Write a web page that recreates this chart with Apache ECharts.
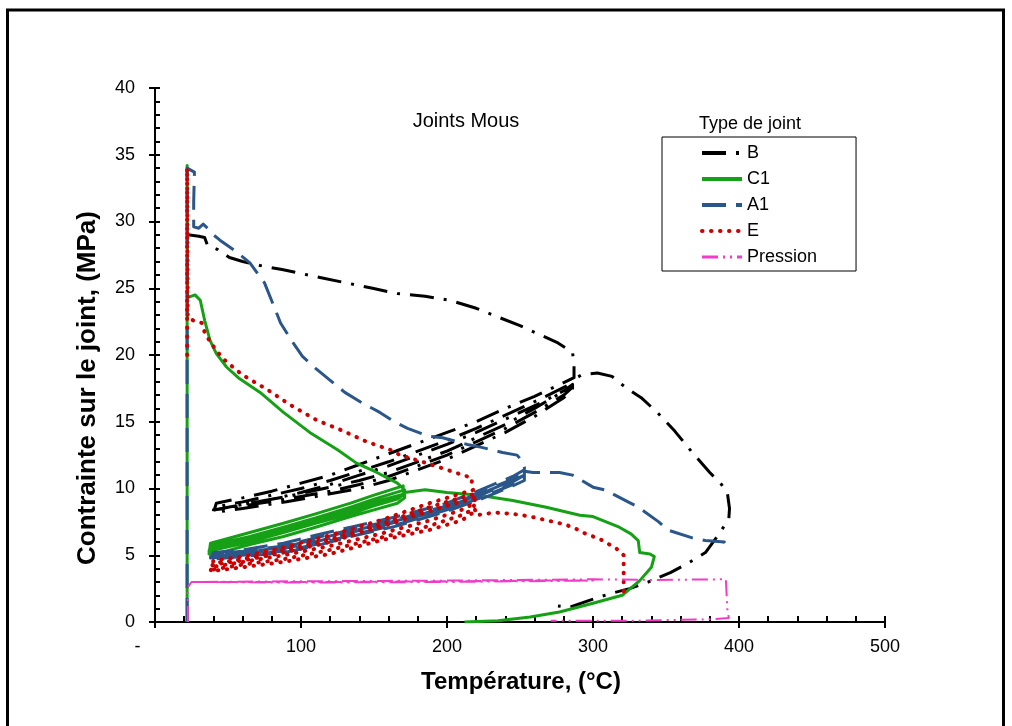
<!DOCTYPE html>
<html>
<head>
<meta charset="utf-8">
<script src="https://cdn.jsdelivr.net/npm/echarts@6/dist/echarts.min.js"></script>
<style>
html,body{margin:0;padding:0;background:#fff;}
#chart{width:1012px;height:726px;}
</style>
</head>
<body>
<div id="chart"></div>
<script>
// ---- Data (Température °C, Contrainte MPa) ----
const seriesNames = ['B', 'C1', 'A1', 'E', 'Pression'];

// B
const bLoad = [[22.6,29.0],[30,28.9],[34,28.8],[36,28.2],[43,27.9],[51,27.3],[60,27.0],[72,26.7],[87,26.4],[96,26.2],[113,25.8],[131,25.4],[149,25.0],[166,24.6],[185,24.4],[202,24.1],[220,23.5],[236,22.8],[250,22.2],[264,21.5],[276,20.9],[286,20.2],[287,19.3]];
const bCool1 = [[287,18.3],[260,16.9],[240,16.0],[220,15.0],[200,14.2],[180,13.4],[160,12.6],[140,11.8],[120,11.0],[100,10.4],[80,9.8],[60,9.3],[42,8.9]];
const bHeat1 = [[40,8.2],[60,8.5],[90,9.0],[120,9.6],[140,10.0],[160,10.6],[180,11.4],[200,12.2],[220,13.2],[240,14.2],[260,15.4],[280,16.8],[286,17.4]];
const bCool2 = [[286,17.9],[262,16.6],[240,15.5],[220,14.5],[200,13.6],[180,12.8],[160,12.0],[140,11.3],[120,10.6],[100,10.0],[80,9.5],[60,9.0],[41,8.6]];
const bHeat2 = [[40,8.4],[60,8.8],[90,9.4],[120,10.1],[140,10.6],[160,11.2],[180,12.0],[200,12.8],[220,13.8],[240,14.8],[260,16.0],[280,17.3],[286,17.8]];
const bCool3 = [[285,17.6],[262,16.3],[240,15.2],[220,14.2],[200,13.3],[180,12.5],[160,11.7],[140,11.0],[120,10.3],[100,9.7],[80,9.2],[60,8.8],[41,8.4]];
const bHeat3 = [[40,8.3],[60,8.7],[90,9.2],[120,9.8],[140,10.3],[160,10.9],[180,11.7],[200,12.5],[220,13.5],[240,14.5],[260,15.7],[280,17.0],[286,17.6]];
const bFinal = [[286,18.1],[292,18.5],[303,18.65],[313,18.4],[322,17.6],[333,16.8],[344,15.7],[356,14.3],[368,12.7],[380,11.2],[388,10.3],[392,9.7],[393.5,8.5],[393,7.7],[385,6.4],[377,5.2],[365,4.4],[353,3.7],[338,3.0],[325,2.5],[311,2.1],[297,1.6],[284,1.1],[276,1.2]];

// C1
const cLoad = [[22,0],[22,34.2],[22.3,24.3],[27.4,24.5],[31,24.1],[34,22.6],[37.7,21.1],[42,20.1],[49,19.1],[57,18.3],[72,17.2],[88,15.7],[106,14.2],[125,12.9],[138,11.9],[152,11.2],[166,10.4],[170,10.0]];
const cCool1 = [[170,10.2],[150,9.5],[134,8.9],[110,8.1],[88,7.4],[65,6.7],[45,6.1],[38,5.9]];
const cHeat1 = [[37,5.1],[45,5.2],[65,5.8],[88,6.4],[110,7.1],[134,7.9],[150,8.4],[166,8.9],[171,9.3]];
const cCool2 = [[171,9.9],[150,9.2],[134,8.6],[110,7.8],[88,7.1],[65,6.4],[45,5.9],[38,5.7]];
const cHeat2 = [[37,5.3],[45,5.5],[65,6.0],[88,6.7],[110,7.4],[134,8.1],[150,8.7],[166,9.2],[171,9.6]];
const cCool3 = [[171,9.7],[150,9.0],[134,8.4],[110,7.6],[88,6.9],[65,6.2],[45,5.7],[38,5.5]];
const cHeat3 = [[37,5.4],[45,5.6],[65,6.1],[88,6.8],[110,7.5],[134,8.2],[150,8.8],[166,9.3],[171,9.7]];
const cFinal = [[172,9.8],[185,9.9],[200,9.7],[222,9.5],[245,9.1],[268,8.6],[291,8.0],[300,7.9],[318,7.1],[326,6.6],[331,6.1],[332,5.2],[339,5.1],[342,4.9],[340,4.1],[332,3.1],[320,2.0],[300,1.4],[277,0.75],[257,0.37],[235,0.1],[212,0]];

// A1
const aLoad = [[22,0],[22,34],[27,33.7],[26.5,31.5],[26.5,29.6],[30,29.5],[33,29.8],[36,29.5],[40,29.0],[44.5,28.6],[55,27.8],[65,26.9],[75,25.4],[82,23.5],[86,22.4],[94,21.0],[101,19.9],[110,19.0],[120,18.1],[130,17.2],[142,16.4],[154,15.7],[164,15.0],[173,14.5],[188,13.9],[197,13.8],[214,13.3],[223,13.1],[238,12.7],[248,12.5],[252,12.0],[253,11.6]];
const aCool1 = [[253,11.4],[245,10.9],[223,9.9],[200,8.9],[166,7.9],[134,7.1],[110,6.5],[88,5.9],[60,5.4],[40,5.2]];
const aHeat1 = [[38,4.7],[60,4.9],[88,5.2],[110,5.7],[134,6.4],[166,7.2],[200,8.3],[223,9.2],[245,10.2],[253,10.6]];
const aCool2 = [[253,11.0],[245,10.6],[223,9.6],[200,8.6],[166,7.6],[134,6.8],[110,6.2],[88,5.6],[60,5.2],[40,5.0]];
const aHeat2 = [[38,4.9],[60,5.1],[88,5.5],[110,6.0],[134,6.7],[166,7.5],[200,8.5],[223,9.5],[245,10.5],[253,11.0]];
const aCool3 = [[253,11.2],[245,10.7],[223,9.7],[200,8.7],[166,7.7],[134,6.9],[110,6.3],[88,5.7],[60,5.3],[40,5.1]];
const aHeat3 = [[38,4.8],[60,5.0],[88,5.3],[110,5.8],[134,6.5],[166,7.3],[200,8.4],[223,9.3],[245,10.3],[253,10.8]];
const aFinal = [[253,11.3],[259,11.2],[277,11.2],[286,11.0],[300,10.1],[308,9.9],[324,9.0],[331,8.6],[345,7.5],[351,6.9],[368,6.3],[377,6.1],[390,6.0],[384,5.8]];

// E
const eLoad = [[22,20],[22,34],[22.4,22.8],[26,22.6],[32,22.4],[34,21.7],[37.7,21.0],[41,20.5],[46,19.8],[50,19.4],[60,18.5],[77,17.4],[92,16.3],[111,15.1],[127,14.4],[145,13.5],[161,12.9],[168,12.5],[186,11.9],[200,11.4],[211,11.0],[217,10.8],[217,10.3],[218,9.9]];
const eCool1 = [[218,9.9],[200,9.3],[188,8.9],[154,7.6],[120,6.5],[88,5.6],[60,4.9],[40,4.6]];
const eHeat1 = [[38,3.8],[60,4.1],[88,4.5],[120,5.1],[154,6.1],[188,6.9],[210,7.6],[218,8.2]];
const eCool2 = [[219,9.3],[200,8.7],[188,8.3],[154,7.1],[120,6.0],[88,5.2],[60,4.6],[40,4.3]];
const eHeat2 = [[38,4.1],[60,4.5],[88,5.0],[120,5.7],[154,6.6],[188,7.6],[210,8.4],[219,8.9]];
const eCool3 = [[219,9.6],[200,9.0],[188,8.6],[154,7.3],[120,6.2],[88,5.4],[60,4.7],[40,4.4]];
const eHeat3 = [[38,3.9],[60,4.3],[88,4.7],[120,5.4],[154,6.3],[188,7.2],[210,8.0],[219,8.5]];
const eFinal = [[220,8.0],[233,8.2],[245,8.1],[257,7.9],[269,7.6],[281,7.3],[288,7.0],[293,6.7],[305,6.2],[316,5.5],[321,5.0],[321,3.7],[321,2.2]];

// Pression
const pLoad = [[22.5,0],[22.5,2.6],[25,3.0],[60,3.0],[120,3.0],[200,3.05],[260,3.1],[300,3.1]];
const pCycle = [[300,3.15],[200,3.0],[100,2.95],[30,3.0],[100,3.05],[200,3.1],[300,3.2]];
const pFinal = [[340,3.15],[391,3.2],[392,1.0],[393,0.3],[380,0.2],[330,0.1],[271,0.1]];

// ---- Build ----
const dataB = [].concat(bLoad, bCool1, bHeat1, bCool2, bHeat2, bCool3, bHeat3, bFinal);
const dataC = [].concat(cLoad, cCool1, cHeat1, cCool2, cHeat2, cCool3, cHeat3, cFinal);
const dataA = [].concat(aLoad, aCool1, aHeat1, aCool2, aHeat2, aCool3, aHeat3, aFinal);
const dataE = [].concat(eLoad, eCool1, eHeat1, eCool2, eHeat2, eCool3, eHeat3, eFinal);
const dataP = [].concat(pLoad, pCycle, pFinal);

const FONT = "'Liberation Sans', Arial, sans-serif";
const chart = echarts.init(document.getElementById('chart'), null, {renderer: 'canvas'});

const styles = {
  B:        {color: '#000000', width: 3,   type: [24, 10, 3, 10]},
  C1:       {color: '#16a016', width: 3,   type: 'solid'},
  A1:       {color: '#2a5689', width: 3,   type: [24, 10]},
  E:        {color: '#cc0000', width: 4,   type: [0.5, 8.5], cap: 'round'},
  Pression: {color: '#f03cc8', width: 2,   type: [16, 5, 2, 5, 2, 5]}
};
const dataMap = {B: dataB, C1: dataC, A1: dataA, E: dataE, Pression: dataP};

function mk(name) {
  const s = styles[name];
  return {
    name, type: 'line', data: dataMap[name], xAxisIndex: 0, yAxisIndex: 0,
    symbol: 'none', showSymbol: false, smooth: false, animation: false,
    lineStyle: {color: s.color, width: s.width, type: s.type, cap: s.cap || 'butt', join: 'round'},
    itemStyle: {color: s.color}
  };
}

const tickStyle = {color: '#000', width: 2};
chart.setOption({
  animation: false,
  backgroundColor: '#fff',
  grid: {left: 155, right: 127, top: 88, bottom: 104, containLabel: false},
  xAxis: [
    {type: 'value', min: 0, max: 500, interval: 100, position: 'bottom',
     axisLine: {show: true, onZero: false, lineStyle: {color: '#000', width: 2}},
     axisTick: {show: true, inside: false, length: 6, lineStyle: tickStyle},
     splitLine: {show: false},
     axisLabel: {fontSize: 18, color: '#000', fontFamily: FONT, margin: 16,
       formatter: v => v === 0 ? '-       ' : String(v)}},
    {type: 'value', min: 0, max: 500, interval: 100, position: 'bottom',
     axisLine: {show: false}, axisLabel: {show: false}, splitLine: {show: false},
     axisTick: {show: true, inside: true, length: 6, lineStyle: tickStyle},
     minorTick: {show: true, splitNumber: 5, length: 6, lineStyle: tickStyle}}
  ],
  yAxis: [
    {type: 'value', min: 0, max: 40, interval: 5, position: 'left',
     axisLine: {show: true, onZero: false, lineStyle: {color: '#000', width: 2}},
     axisTick: {show: true, inside: false, length: 6, lineStyle: tickStyle},
     splitLine: {show: false},
     axisLabel: {fontSize: 18, color: '#000', fontFamily: FONT, margin: 20}},
    {type: 'value', min: 0, max: 40, interval: 5, position: 'left',
     axisLine: {show: false}, axisLabel: {show: false}, splitLine: {show: false},
     axisTick: {show: true, inside: true, length: 5, lineStyle: tickStyle},
     minorTick: {show: true, splitNumber: 5, length: 5, lineStyle: tickStyle}}
  ],
  legend: {
    orient: 'vertical', left: 662, top: 137,
    data: seriesNames.map(n => ({
      name: n,
      lineStyle: {width: n === 'E' ? 4 : (n === 'Pression' ? 3 : 4)}
    })),
    itemWidth: 40, itemHeight: 14, itemGap: 8,
    padding: [7, 39, 5, 38],
    borderColor: '#000', borderWidth: 1,
    itemStyle: {opacity: 0, color: 'rgba(0,0,0,0)', borderWidth: 0},
    textStyle: {fontSize: 18, color: '#000', fontFamily: FONT},
    selectedMode: false
  },
  graphic: [
    {type: 'rect', silent: true, shape: {x: 7.5, y: 10, width: 996, height: 800},
     style: {fill: 'none', stroke: '#000', lineWidth: 3}},
    {type: 'text', silent: true,
     style: {text: 'Joints Mous', x: 466, y: 121, fontSize: 20, fontFamily: FONT, fill: '#000', textAlign: 'center', textVerticalAlign: 'middle'}},
    {type: 'text', silent: true,
     style: {text: 'Type de joint', x: 750, y: 124, fontSize: 18, fontFamily: FONT, fill: '#000', textAlign: 'center', textVerticalAlign: 'middle'}},
    {type: 'text', silent: true,
     style: {text: 'Température, (°C)', x: 521, y: 682, fontSize: 24, fontWeight: 'bold', fontFamily: FONT, fill: '#000', textAlign: 'center', textVerticalAlign: 'middle'}},
    {type: 'text', silent: true, x: 88, y: 388, rotation: Math.PI / 2,
     style: {text: 'Contrainte sur le joint, (MPa)', x: 0, y: 0, fontSize: 26, fontWeight: 'bold', fontFamily: FONT, fill: '#000', textAlign: 'center', textVerticalAlign: 'middle'}}
  ],
  series: seriesNames.map(mk)
});
</script>
</body>
</html>
